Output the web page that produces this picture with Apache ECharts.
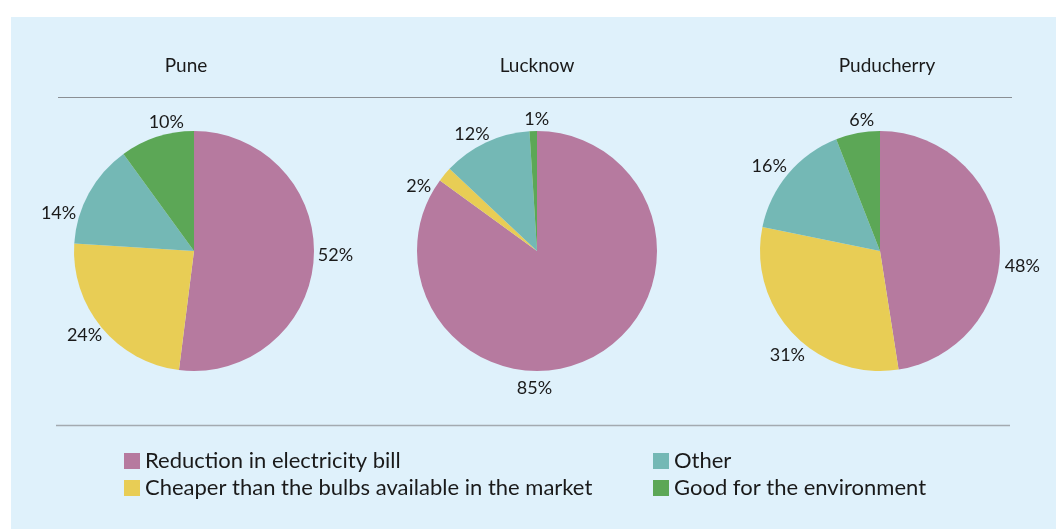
<!DOCTYPE html>
<html>
<head>
<meta charset="utf-8">
<script src="https://cdn.jsdelivr.net/npm/echarts@6/dist/echarts.min.js"></script>
<style>
  html, body { margin: 0; padding: 0; background: #ffffff; }
  #chart { width: 1056px; height: 529px; }
</style>
</head>
<body>
<div id="chart"></div>
<script>
// data
var cities = ['Pune', 'Lucknow', 'Puducherry'];
var reasons = [
  'Reduction in electricity bill',
  'Cheaper than the bulbs available in the market',
  'Other',
  'Good for the environment'
];
var puneValues = [52, 24, 14, 10];
var lucknowValues = [85, 2, 12, 1];
var puducherryValues = [48, 31, 16, 6];
var colors = ['#b67a9f', '#e8cd55', '#74b8b5', '#5ca756'];

var cityValues = [puneValues, lucknowValues, puducherryValues];
var centersX = [194, 537, 880];
var titleX = [186, 537, 887];
var font = 'Lato, "Liberation Sans", sans-serif';

// small nudges so the percentage labels sit where the original placed them
var labelNudge = [
  [[-1, -4], [5, 6], [-8, 21], [30, -12]],
  [[-78, 28], [-9, 14], [7, -6], [18, -9]],
  [[0, 25], [16, 19], [3, -6], [19, -10]]
];

var chart = echarts.init(document.getElementById('chart'));

var titles = cities.map(function (c, i) {
  return {
    text: c,
    left: titleX[i],
    top: 56,
    padding: 0,
    textAlign: 'center',
    textStyle: { fontFamily: font, fontSize: 19, fontWeight: 'normal', color: '#1a1a1a' }
  };
});

var series = cities.map(function (c, i) {
  return {
    type: 'pie',
    name: c,
    center: [centersX[i], 251],
    radius: 120,
    startAngle: 90,
    clockwise: true,
    animation: false,
    silent: true,
    avoidLabelOverlap: false,
    itemStyle: { borderWidth: 0 },
    label: {
      show: true,
      position: 'outside',
      formatter: '{c}%',
      fontFamily: font,
      fontSize: 18,
      color: '#1a1a1a',
      distanceToLabelLine: 2
    },
    labelLine: { show: false, length: 3, length2: 0 },
    labelLayout: function (params) {
      var n = labelNudge[params.seriesIndex][params.dataIndex];
      return { dx: n[0], dy: n[1] };
    },
    data: reasons.map(function (r, j) {
      return { name: r, value: cityValues[i][j] };
    })
  };
});

var legendText = { fontFamily: font, fontSize: 22, color: '#1a1a1a' };

var option = {
  backgroundColor: '#ffffff',
  color: colors,
  title: titles,
  legend: [
    {
      data: reasons.slice(0, 2),
      orient: 'vertical',
      left: 119,
      top: 445,
      itemWidth: 16,
      itemHeight: 16,
      itemGap: 5,
      icon: 'rect',
      selectedMode: false,
      textStyle: legendText
    },
    {
      data: reasons.slice(2, 4),
      orient: 'vertical',
      left: 648,
      top: 445,
      itemWidth: 16,
      itemHeight: 16,
      itemGap: 5,
      icon: 'rect',
      selectedMode: false,
      textStyle: legendText
    }
  ],
  graphic: [
    {
      type: 'rect',
      z: -10,
      shape: { x: 11, y: 17, width: 1045, height: 512 },
      style: { fill: '#dff1fb' }
    },
    {
      type: 'line',
      shape: { x1: 58, y1: 97.5, x2: 1012, y2: 97.5 },
      style: { stroke: '#8a8f94', lineWidth: 1 }
    },
    {
      type: 'line',
      shape: { x1: 56, y1: 425.5, x2: 1010, y2: 425.5 },
      style: { stroke: '#a3aab0', lineWidth: 1.5 }
    }
  ],
  series: series
};

chart.setOption(option);
</script>
</body>
</html>
